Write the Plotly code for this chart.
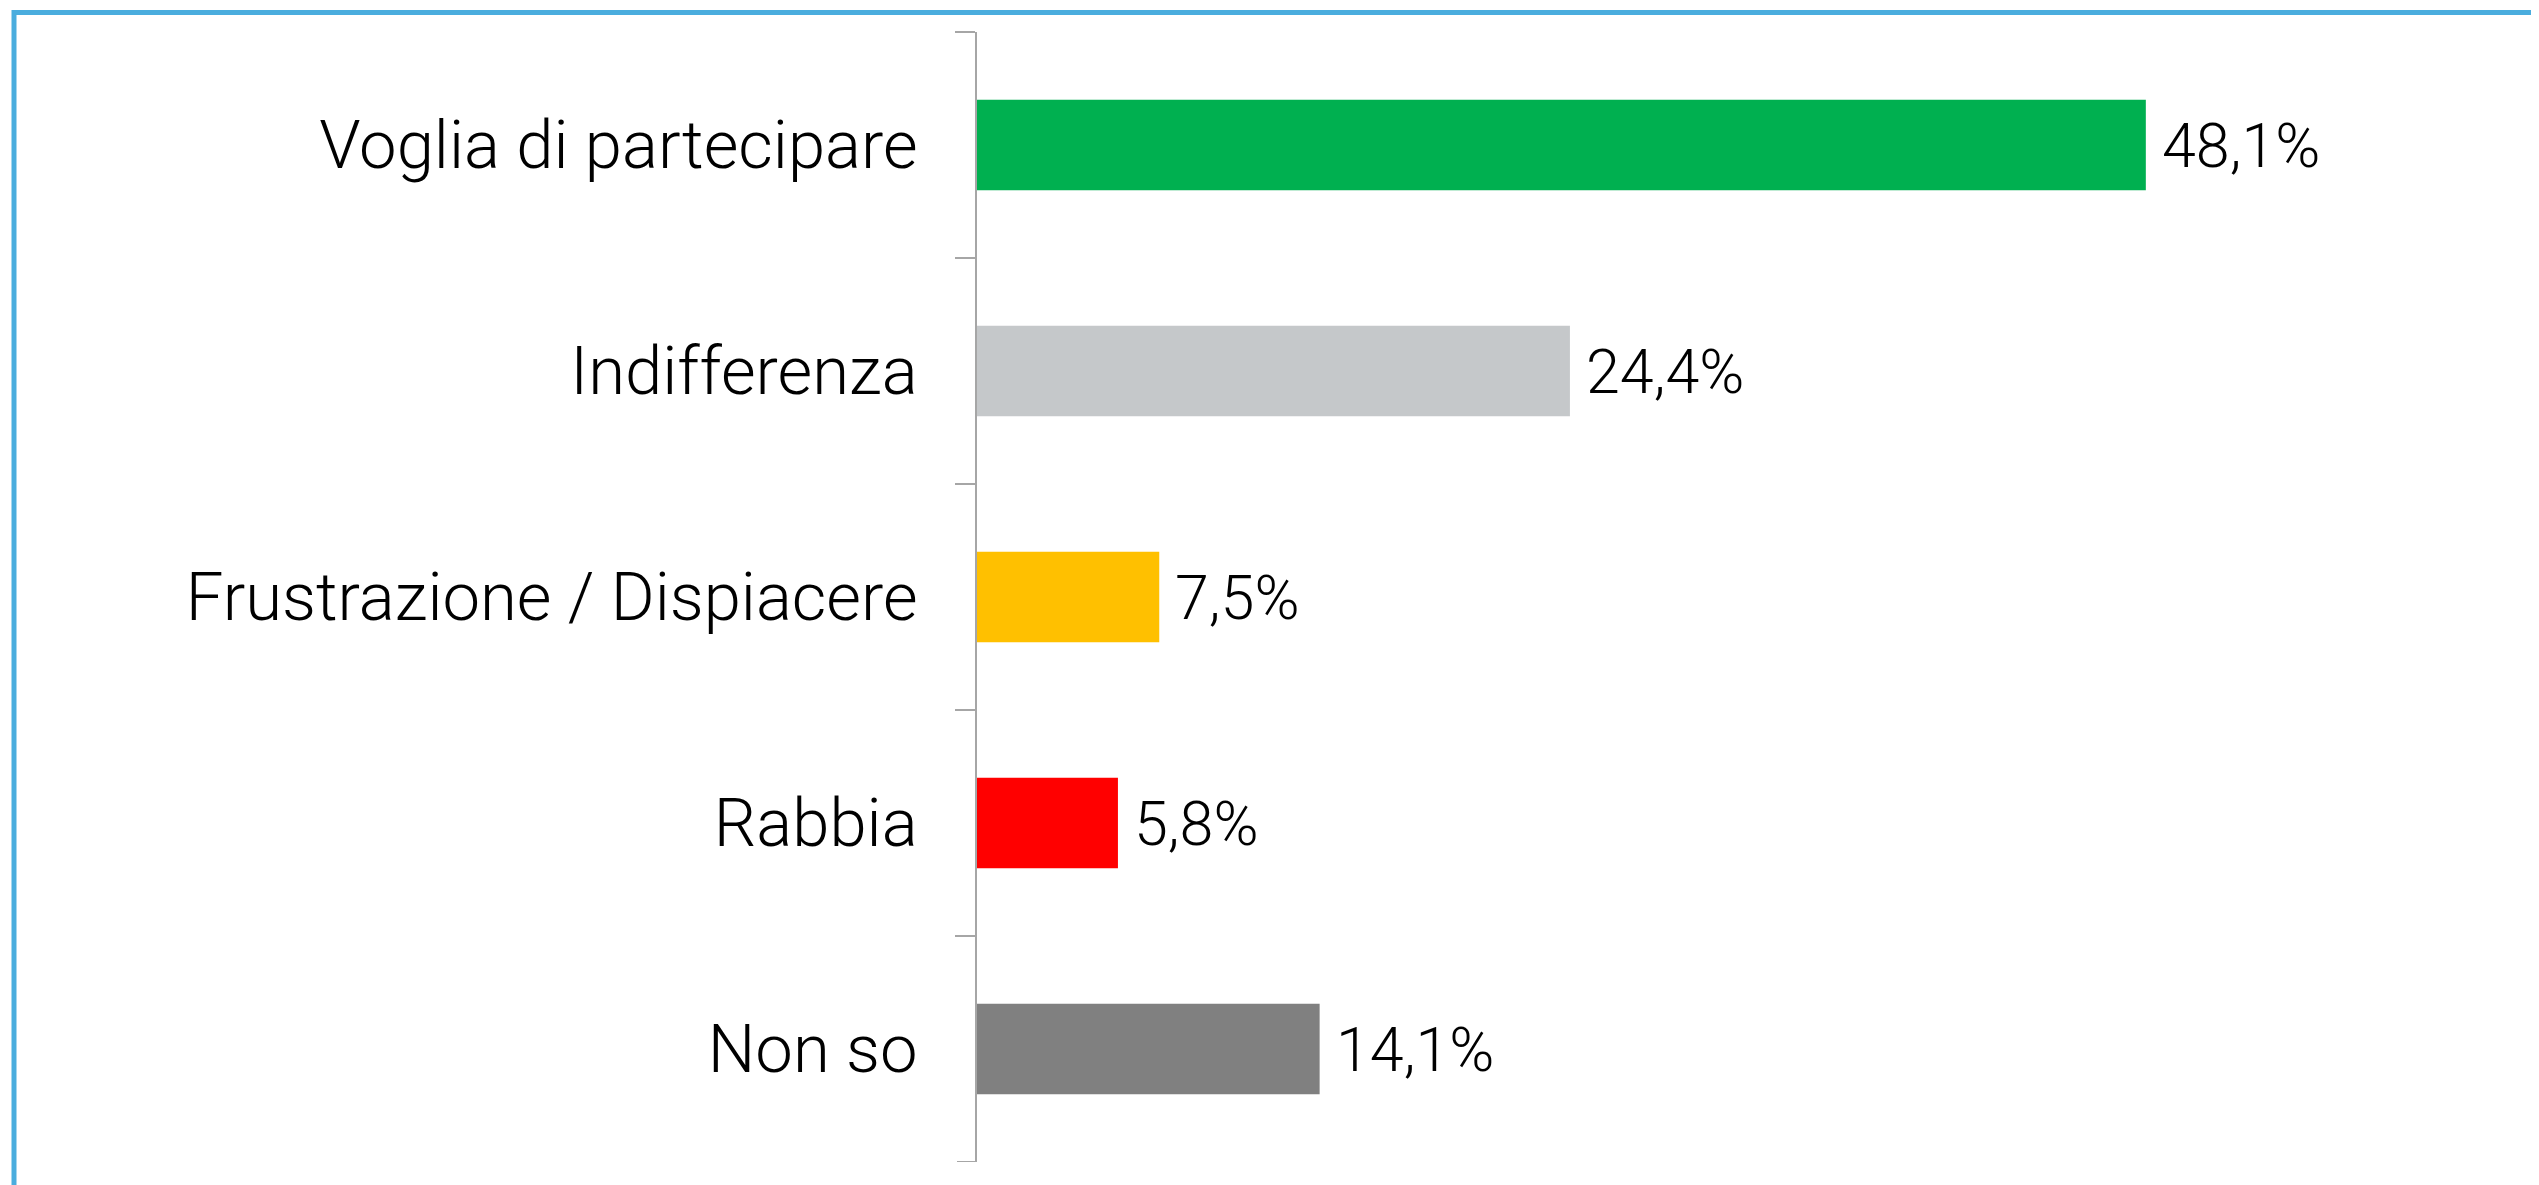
import plotly.graph_objects as go

categories = ["Voglia di partecipare", "Indifferenza", "Frustrazione / Dispiacere", "Rabbia", "Non so"]
values = [48.1, 24.4, 7.5, 5.8, 14.1]
bar_colors = ["#00B050", "#C5C8CA", "#FFC000", "#FF0000", "#808080"]
value_labels = ["48,1%", "24,4%", "7,5%", "5,8%", "14,1%"]

W, H = 2539, 1185
OFF = 8  # page body margin
ML, MT = 977 - OFF, 32 - OFF
plot_right_page, plot_bottom_page = 2435, 1162
MR = W - (plot_right_page - OFF)
MB = H - (plot_bottom_page - OFF)
pw = W - ML - MR
ph = H - MT - MB

FONT = "Roboto"
AX = "#A6A6A6"

fig = go.Figure()
fig.add_trace(go.Bar(
    x=values, y=categories, orientation="h",
    marker=dict(color=bar_colors, line=dict(width=0)),
    hoverinfo="skip",
))

for c, v, t in zip(categories, values, value_labels):
    fig.add_annotation(x=v, y=c, text=t, showarrow=False, xanchor="left",
                       xshift=14, yshift=-1,
                       font=dict(family=FONT, size=61, color="#000000", weight=300))


def px2paper_x(px):
    return (px - OFF - ML) / pw


def px2paper_y(py):
    return (H - MB - (py - OFF)) / ph


# bottom boundary tick (plotly omits the last one)
fig.add_shape(type="line", xref="paper", yref="y",
              x0=-20 / pw, x1=0, y0=4.5, y1=4.5,
              line=dict(color=AX, width=2), layer="above")

# light blue frame (extends past right/bottom edge as in reference)
fig.add_shape(type="rect", xref="paper", yref="paper",
              x0=px2paper_x(14), x1=px2paper_x(2570),
              y0=px2paper_y(1210), y1=px2paper_y(12.5),
              line=dict(color="#4AADDE", width=5), fillcolor="rgba(0,0,0,0)",
              layer="above")

fig.update_layout(
    width=W, height=H,
    margin=dict(l=ML, r=MR, t=MT, b=MB, pad=0),
    paper_bgcolor="white", plot_bgcolor="white",
    showlegend=False,
    bargap=0.6,
    font=dict(family=FONT, size=62, color="#000000", weight=300),
    xaxis=dict(range=[0, 60], visible=False, fixedrange=True),
    yaxis=dict(
        autorange=False, range=[4.5, -0.5],
        showline=True, linecolor=AX, linewidth=2,
        ticks="outside", tickson="boundaries", ticklen=20, tickwidth=2,
        tickcolor=AX, ticklabelstandoff=44,
        tickfont=dict(family=FONT, size=67, color="#000000", weight=300),
        showgrid=False, zeroline=False, fixedrange=True,
    ),
)

fig.write_html("out.html")
